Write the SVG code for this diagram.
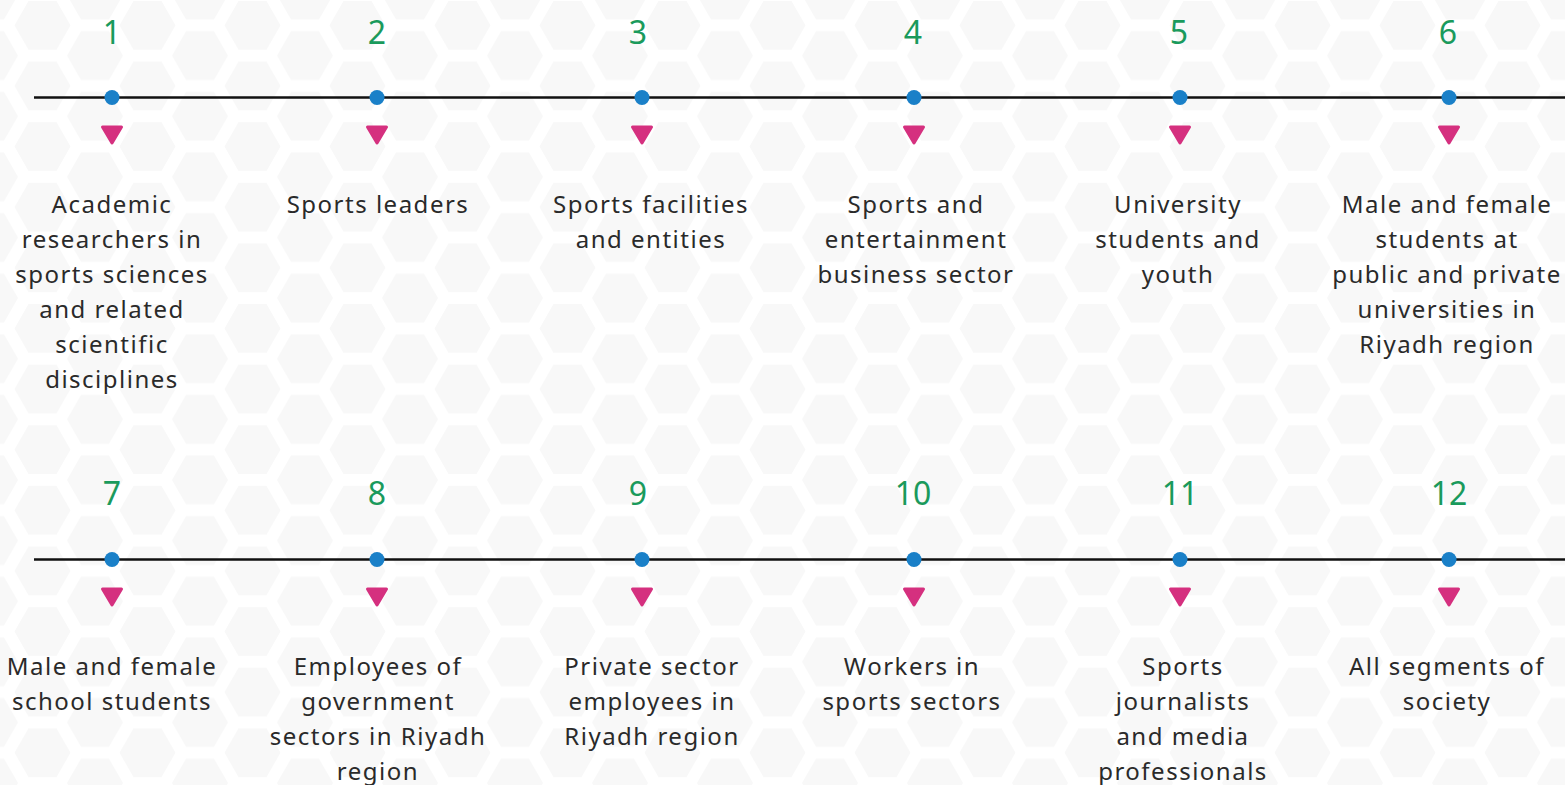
<svg xmlns="http://www.w3.org/2000/svg" width="1565" height="785" viewBox="0 0 1565 785">
<style>
.num{font-family:"Noto Sans","Open Sans",sans-serif;font-size:32px;fill:#1a9a5c;text-anchor:middle}
.lbl{font-family:"Noto Sans","Open Sans",sans-serif;font-size:24px;fill:#2a2a2a;text-anchor:middle;letter-spacing:1.5px}
.dot{fill:#1a80c8}
.tri{fill:#d5307f;stroke:#d5307f;stroke-width:3;stroke-linejoin:round}
.axis{stroke:#111;stroke-width:2.5}
</style>
<defs>
<pattern id="hex" patternUnits="userSpaceOnUse" width="105" height="60.62" x="-10" y="-5">
<g fill="#f8f8f8">
<polygon points="28,0 14,24.25 -14,24.25 -28,0 -14,-24.25 14,-24.25"/>
<polygon points="133,0 119,24.25 91,24.25 77,0 91,-24.25 119,-24.25"/>
<polygon points="28,60.62 14,84.87 -14,84.87 -28,60.62 -14,36.37 14,36.37"/>
<polygon points="133,60.62 119,84.87 91,84.87 77,60.62 91,36.37 119,36.37"/>
<polygon points="80.5,30.31 66.5,54.56 38.5,54.56 24.5,30.31 38.5,6.06 66.5,6.06"/>
</g>
</pattern>
</defs>
<rect width="1565" height="785" fill="#fff"/>
<rect width="1565" height="785" fill="url(#hex)"/>
<g id="connectors">
<line class="axis" x1="34" y1="97.5" x2="1565" y2="97.5"/>
<line class="axis" x1="34" y1="559.5" x2="1565" y2="559.5"/>
</g>
<g id="node1"><text class="num" x="112" y="44">1</text><circle class="dot" cx="112" cy="97.5" r="7.5"/><polygon class="tri" points="102.5,127 121.5,127 112,143"/><text class="lbl" x="112" y="213"><tspan x="112">Academic</tspan><tspan x="112" dy="35">researchers in</tspan><tspan x="112" dy="35">sports sciences</tspan><tspan x="112" dy="35">and related</tspan><tspan x="112" dy="35">scientific</tspan><tspan x="112" dy="35">disciplines</tspan></text></g>
<g id="node2"><text class="num" x="377" y="44">2</text><circle class="dot" cx="377" cy="97.5" r="7.5"/><polygon class="tri" points="367.5,127 386.5,127 377,143"/><text class="lbl" x="378" y="213">Sports leaders</text></g>
<g id="node3"><text class="num" x="638" y="44">3</text><circle class="dot" cx="642" cy="97.5" r="7.5"/><polygon class="tri" points="632.5,127 651.5,127 642,143"/><text class="lbl" x="651" y="213"><tspan x="651">Sports facilities</tspan><tspan x="651" dy="35">and entities</tspan></text></g>
<g id="node4"><text class="num" x="913" y="44">4</text><circle class="dot" cx="914" cy="97.5" r="7.5"/><polygon class="tri" points="904.5,127 923.5,127 914,143"/><text class="lbl" x="916" y="213"><tspan x="916">Sports and</tspan><tspan x="916" dy="35">entertainment</tspan><tspan x="916" dy="35">business sector</tspan></text></g>
<g id="node5"><text class="num" x="1179" y="44">5</text><circle class="dot" cx="1180" cy="97.5" r="7.5"/><polygon class="tri" points="1170.5,127 1189.5,127 1180,143"/><text class="lbl" x="1178" y="213"><tspan x="1178">University</tspan><tspan x="1178" dy="35">students and</tspan><tspan x="1178" dy="35">youth</tspan></text></g>
<g id="node6"><text class="num" x="1448" y="44">6</text><circle class="dot" cx="1449" cy="97.5" r="7.5"/><polygon class="tri" points="1439.5,127 1458.5,127 1449,143"/><text class="lbl" x="1447" y="213"><tspan x="1447">Male and female</tspan><tspan x="1447" dy="35">students at</tspan><tspan x="1447" dy="35">public and private</tspan><tspan x="1447" dy="35">universities in</tspan><tspan x="1447" dy="35">Riyadh region</tspan></text></g>
<g id="node7"><text class="num" x="112" y="505">7</text><circle class="dot" cx="112" cy="559.5" r="7.5"/><polygon class="tri" points="102.5,589 121.5,589 112,605"/><text class="lbl" x="112" y="675"><tspan x="112">Male and female</tspan><tspan x="112" dy="35">school students</tspan></text></g>
<g id="node8"><text class="num" x="377" y="505">8</text><circle class="dot" cx="377" cy="559.5" r="7.5"/><polygon class="tri" points="367.5,589 386.5,589 377,605"/><text class="lbl" x="378" y="675"><tspan x="378">Employees of</tspan><tspan x="378" dy="35">government</tspan><tspan x="378" dy="35">sectors in Riyadh</tspan><tspan x="378" dy="35">region</tspan></text></g>
<g id="node9"><text class="num" x="638" y="505">9</text><circle class="dot" cx="642" cy="559.5" r="7.5"/><polygon class="tri" points="632.5,589 651.5,589 642,605"/><text class="lbl" x="652" y="675"><tspan x="652">Private sector</tspan><tspan x="652" dy="35">employees in</tspan><tspan x="652" dy="35">Riyadh region</tspan></text></g>
<g id="node10"><text class="num" x="913" y="505">10</text><circle class="dot" cx="914" cy="559.5" r="7.5"/><polygon class="tri" points="904.5,589 923.5,589 914,605"/><text class="lbl" x="912" y="675"><tspan x="912">Workers in</tspan><tspan x="912" dy="35">sports sectors</tspan></text></g>
<g id="node11"><text class="num" x="1180" y="505">11</text><circle class="dot" cx="1180" cy="559.5" r="7.5"/><polygon class="tri" points="1170.5,589 1189.5,589 1180,605"/><text class="lbl" x="1183" y="675"><tspan x="1183">Sports</tspan><tspan x="1183" dy="35">journalists</tspan><tspan x="1183" dy="35">and media</tspan><tspan x="1183" dy="35">professionals</tspan></text></g>
<g id="node12"><text class="num" x="1449" y="505">12</text><circle class="dot" cx="1449" cy="559.5" r="7.5"/><polygon class="tri" points="1439.5,589 1458.5,589 1449,605"/><text class="lbl" x="1447" y="675"><tspan x="1447">All segments of</tspan><tspan x="1447" dy="35">society</tspan></text></g>
</svg>
